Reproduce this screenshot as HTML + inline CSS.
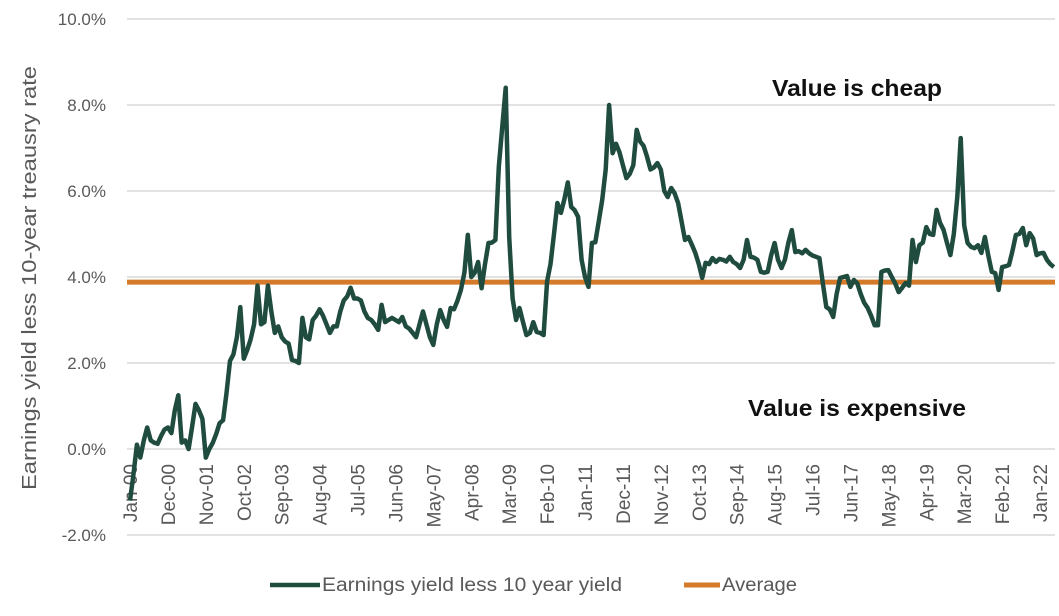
<!DOCTYPE html>
<html><head><meta charset="utf-8"><style>
body{margin:0;background:#fff;}
svg{display:block;font-family:"Liberation Sans",sans-serif;}
</style></head><body>
<svg id="chart" width="1059" height="616"></svg>
<script>
const months=["Jan-00","Dec-00","Nov-01","Oct-02","Sep-03","Aug-04","Jul-05","Jun-06","May-07","Apr-08","Mar-09","Feb-10","Jan-11","Dec-11","Nov-12","Oct-13","Sep-14","Aug-15","Jul-16","Jun-17","May-18","Apr-19","Mar-20","Feb-21","Jan-22"];
const yTicks=[-2,0,2,4,6,8,10];
const averageValue=[3.88];
const spreadValues=[-1.2,-0.6,0.1,-0.2,0.2,0.5,0.2,0.15,0.12,0.3,0.45,0.5,0.37,0.9,1.25,0.15,0.2,0.0,0.5,1.05,0.9,0.7,-0.2,0.0,0.14,0.35,0.6,0.67,1.3,2.05,2.2,2.6,3.3,2.1,2.3,2.55,2.9,3.8,2.9,2.95,3.8,3.2,2.7,2.85,2.6,2.5,2.45,2.07,2.05,2.0,3.05,2.6,2.55,3.0,3.1,3.25,3.1,2.9,2.7,2.85,2.85,3.2,3.45,3.55,3.75,3.5,3.5,3.45,3.2,3.05,3.0,2.9,2.77,3.35,2.95,3.0,3.05,3.0,2.95,3.07,2.85,2.8,2.7,2.6,2.9,3.2,2.9,2.6,2.42,2.9,3.23,3.0,2.84,3.28,3.25,3.45,3.7,4.1,4.98,4.0,4.1,4.35,3.74,4.3,4.79,4.8,4.86,6.56,7.5,8.4,4.93,3.5,3.0,3.28,2.95,2.65,2.7,2.95,2.72,2.7,2.65,3.9,4.3,5.0,5.72,5.49,5.8,6.2,5.63,5.55,5.4,4.4,4.0,3.77,4.79,4.81,5.3,5.79,6.5,8.0,6.88,7.1,6.9,6.6,6.3,6.4,6.6,7.42,7.15,7.05,6.8,6.5,6.55,6.65,6.5,6.0,5.86,6.07,5.95,5.72,5.3,4.86,4.93,4.75,4.56,4.3,3.98,4.33,4.3,4.44,4.35,4.42,4.4,4.36,4.47,4.35,4.3,4.21,4.4,4.86,4.47,4.45,4.4,4.12,4.1,4.12,4.5,4.79,4.4,4.21,4.4,4.8,5.09,4.58,4.6,4.55,4.63,4.55,4.5,4.47,4.44,3.86,3.3,3.25,3.07,3.6,3.98,4.0,4.02,3.77,3.93,3.85,3.6,3.4,3.28,3.1,2.88,2.88,4.12,4.15,4.16,4.0,3.85,3.65,3.75,3.86,3.8,4.86,4.35,4.74,4.8,5.16,5.0,4.98,5.56,5.26,5.1,4.8,4.51,5.0,5.86,7.23,5.2,4.79,4.7,4.67,4.74,4.56,4.93,4.5,4.12,4.09,3.7,4.23,4.25,4.28,4.6,4.98,5.0,5.14,4.74,5.02,4.9,4.51,4.55,4.56,4.4,4.3,4.23];

const svg=document.getElementById('chart');
const NS='http://www.w3.org/2000/svg';
const L=127,R=1055,step=3.447,x0=130;
function xs(i){return x0+i*step;}
function ys(v){return 449-v*43;}
function mk(tag,attrs){const e=document.createElementNS(NS,tag);for(const k in attrs)e.setAttribute(k,attrs[k]);svg.appendChild(e);return e;}

yTicks.forEach(t=>{
  const g=mk('line',{x1:L,x2:R,y1:ys(t),y2:ys(t),stroke:'#d9d9d9','stroke-width':1.5});
  
  
  const tx=mk('text',{x:106,y:ys(t)+6,'text-anchor':'end','font-size':17,fill:'#595959'});
  tx.textContent=t.toFixed(1)+'%';
  
  
});

months.forEach((m,k)=>{
  const x=xs(k*11);
  const tx=mk('text',{x:0,y:0,'text-anchor':'end','font-size':19,fill:'#595959',transform:`translate(${x+7},464) rotate(-90)`});
  tx.textContent=m;
  
  
});

const yt=mk('text',{x:0,y:0,'text-anchor':'middle','font-size':20,fill:'#595959',textLength:424,lengthAdjust:'spacingAndGlyphs',transform:'translate(36,278) rotate(-90)'});
yt.textContent='Earnings yield less 10-year treausry rate';



const avg=mk('line',{x1:L,x2:R,y1:ys(averageValue[0]),y2:ys(averageValue[0]),stroke:'#d57a2a','stroke-width':5});



const pts=spreadValues.map((v,i)=>xs(i).toFixed(1)+','+ys(v).toFixed(1)).join(' ');
const pl=mk('polyline',{points:pts,fill:'none',stroke:'#1f4c3f','stroke-width':4.5,'stroke-linejoin':'round'});



const c1=mk('text',{x:772,y:96,'font-size':23,'font-weight':'bold',fill:'#111',textLength:170,lengthAdjust:'spacingAndGlyphs'});
c1.textContent='Value is cheap';


const c2=mk('text',{x:748,y:416,'font-size':23,'font-weight':'bold',fill:'#111',textLength:218,lengthAdjust:'spacingAndGlyphs'});
c2.textContent='Value is expensive';



const l1=mk('line',{x1:270,x2:320,y1:585,y2:585,stroke:'#1f4c3f','stroke-width':4.5});


const t1=mk('text',{x:322,y:591,'font-size':19,fill:'#595959',textLength:300,lengthAdjust:'spacingAndGlyphs'});
t1.textContent='Earnings yield less 10 year yield';


const l2=mk('line',{x1:684,x2:720,y1:585,y2:585,stroke:'#d57a2a','stroke-width':5});


const t2=mk('text',{x:722,y:591,'font-size':19,fill:'#595959',textLength:75,lengthAdjust:'spacingAndGlyphs'});
t2.textContent='Average';


</script>
</body></html>
